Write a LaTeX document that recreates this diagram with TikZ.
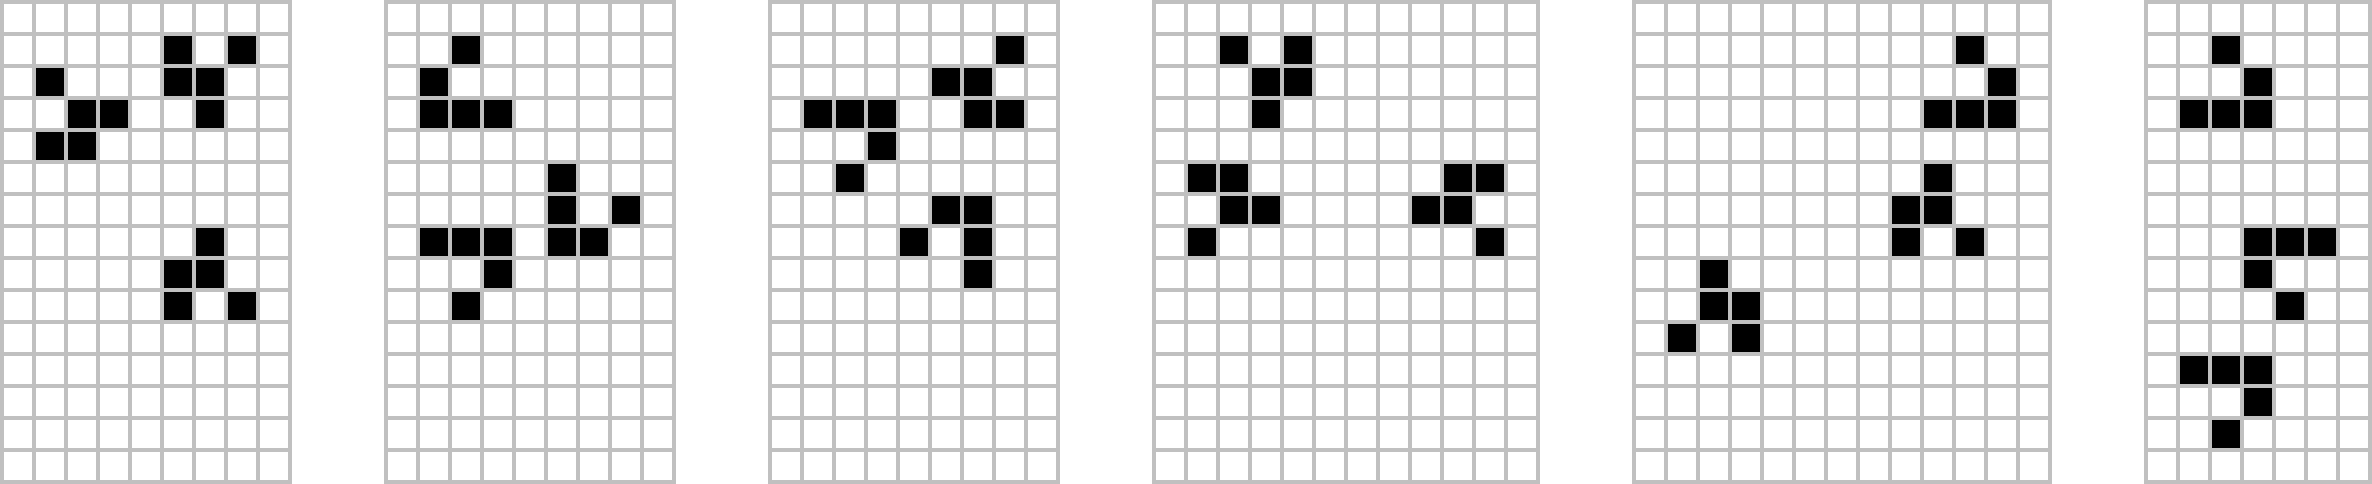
\documentclass[tikz,border=0pt]{standalone}
\definecolor{gridgray}{HTML}{C0C0C0}
\tikzset{
  cellfill/.style={fill=black},
  gridline/.style={draw=gridgray, line width=3.6pt, line cap=rect},
}
\newcommand\lifegrid[3]{%
  \foreach \cc/\rr in {#3} {\fill[cellfill] (#1+\cc,14-\rr) rectangle (#1+\cc+1,15-\rr);}
  \draw[gridline] (#1,0) grid[step=1] (#1+#2,15);
}
\begin{document}
\begin{tikzpicture}[x=32pt,y=32pt]
\useasboundingbox (-1.8pt,-1.8pt) rectangle (2370.2pt,482.2pt);
\fill[white] (-1.8pt,-1.8pt) rectangle (2370.2pt,482.2pt);
\lifegrid{0}{9}{5/1,7/1,1/2,5/2,6/2,2/3,3/3,6/3,1/4,2/4,6/7,5/8,6/8,5/9,7/9}
\lifegrid{12}{9}{2/1,1/2,1/3,2/3,3/3,5/5,5/6,7/6,1/7,2/7,3/7,5/7,6/7,3/8,2/9}
\lifegrid{24}{9}{7/1,5/2,6/2,1/3,2/3,3/3,6/3,7/3,3/4,2/5,5/6,6/6,4/7,6/7,6/8}
\lifegrid{36}{12}{2/1,4/1,3/2,4/2,3/3,1/5,2/5,9/5,10/5,2/6,3/6,8/6,9/6,1/7,10/7}
\lifegrid{51}{13}{10/1,11/2,9/3,10/3,11/3,9/5,8/6,9/6,8/7,10/7,2/8,2/9,3/9,1/10,3/10}
\lifegrid{67}{7}{2/1,3/2,1/3,2/3,3/3,3/7,4/7,5/7,3/8,4/9,1/11,2/11,3/11,3/12,2/13}
\end{tikzpicture}
\end{document}
